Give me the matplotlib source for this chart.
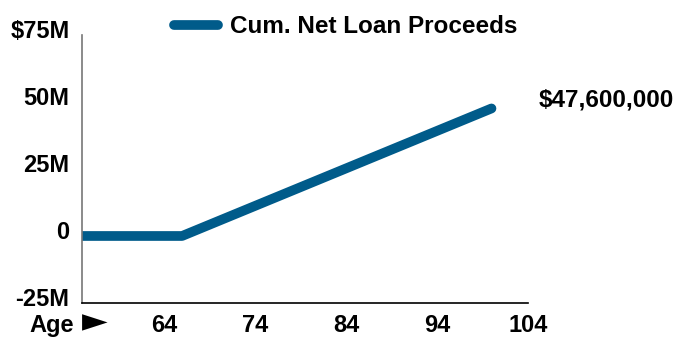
import matplotlib
matplotlib.use("Agg")
import matplotlib.pyplot as plt
from matplotlib.transforms import ScaledTranslation

# data
ages = [55, 66, 100]
proceeds_m = [0, 0, 47.6]
x_ticks = [64, 74, 84, 94, 104]
y_ticks = [-25, 0, 25, 50, 75]
y_labels = ["-25M", "0", "25M", "50M", "$75M"]
end_label = "$47,600,000"
series_name = "Cum. Net Loan Proceeds"

plt.rcParams['font.family'] = ['Liberation Sans', 'DejaVu Sans']
plt.rcParams['font.weight'] = 'bold'

BLUE = "#005b8a"

fig = plt.figure(figsize=(6.86, 3.37), dpi=100)
ax = fig.add_axes([0.1195, 0.101, 0.650, 0.795])

ax.plot(ages, proceeds_m, color=BLUE, lw=7, solid_capstyle='round',
        solid_joinstyle='round', label=series_name)

ax.set_xlim(55, 104)
ax.set_ylim(-25, 75)
ax.set_xticks(x_ticks)
ax.set_xticklabels([str(t) for t in x_ticks], fontsize=17, fontweight='bold')
ax.set_yticks(y_ticks)
ax.set_yticklabels(y_labels, fontsize=17, fontweight='bold')
ax.tick_params(axis='both', length=0)
ax.tick_params(axis='y', pad=9)
ax.tick_params(axis='x', pad=8)
# y labels sit a little above their gridline value
shift = ScaledTranslation(0, 6 / 100, fig.dpi_scale_trans)
for lab in ax.get_yticklabels():
    lab.set_transform(lab.get_transform() + shift)

ax.spines['top'].set_visible(False)
ax.spines['right'].set_visible(False)
ax.spines['left'].set_color('#777777')
ax.spines['left'].set_linewidth(1.2)
ax.spines['bottom'].set_color('black')
ax.spines['bottom'].set_linewidth(1.2)

ax.annotate(end_label, xy=(ages[-1], proceeds_m[-1]), xytext=(34, 6),
            textcoords='offset points', fontsize=17.5, fontweight='bold',
            ha='left', va='center', annotation_clip=False)

fig.text(0.043, 0.015, "Age", fontsize=17, fontweight='bold',
         ha='left', va='baseline')
fig.text(0.119, 0.018, "\u25ba", fontsize=24, fontweight='bold',
         ha='left', va='baseline', family=['DejaVu Sans'])

fig.legend(loc='upper left', bbox_to_anchor=(0.222, 1.02), frameon=False,
           prop={'size': 17.5, 'weight': 'bold'}, handlelength=1.8,
           handletextpad=0.5)

fig.savefig("out.png", dpi=100)
